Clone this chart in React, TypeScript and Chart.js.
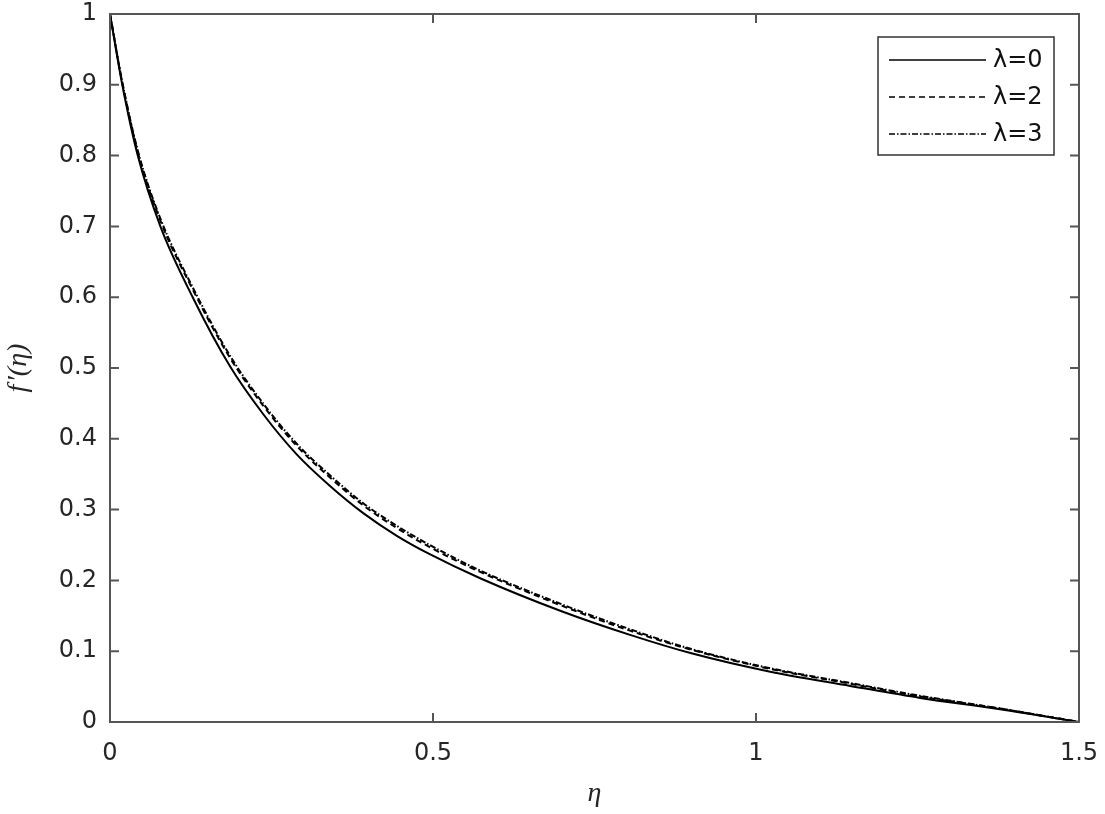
import React, { useEffect, useRef } from "react";
import { Chart, registerables } from "chart.js";

Chart.register(...registerables);

const eta = [0, 0.019, 0.043, 0.078, 0.128, 0.186, 0.237, 0.289, 0.341, 0.392, 0.444, 0.495, 0.573, 0.7, 0.805, 0.9, 1.022, 1.146, 1.254, 1.378, 1.5];
const lambda0 = [1, 0.9, 0.8, 0.7, 0.6, 0.502, 0.435, 0.378, 0.333, 0.295, 0.263, 0.237, 0.203, 0.156, 0.123, 0.097, 0.071, 0.051, 0.034, 0.018, 0];
const lambda2 = [1, 0.903, 0.805, 0.708, 0.611, 0.514, 0.447, 0.39, 0.345, 0.306, 0.274, 0.247, 0.212, 0.164, 0.129, 0.102, 0.075, 0.054, 0.036, 0.019, 0];
const lambda3 = [1, 0.904, 0.807, 0.711, 0.614, 0.517, 0.45, 0.393, 0.348, 0.309, 0.277, 0.25, 0.214, 0.166, 0.131, 0.103, 0.076, 0.055, 0.037, 0.019, 0];
const seriesLabels = ["λ=0", "λ=2", "λ=3"];
const xTicks = [0, 0.5, 1, 1.5];
const yTicks = [0, 0.1, 0.2, 0.3, 0.4, 0.5, 0.6, 0.7, 0.8, 0.9, 1];

const dashes: number[][] = [[], [6, 4], [6, 2, 1.5, 2]];

const AXIS_COLOR = "#555555";
const TEXT_COLOR = "#262626";
const TICK_FONT = { family: "'DejaVu Sans', 'Liberation Sans', Arial, sans-serif", size: 24 };

const framePlugin = {
  id: "matlabFrame",
  afterDraw(chart: any) {
    const ctx = chart.ctx;
    const a = chart.chartArea;
    const xs = chart.scales.x;
    const ys = chart.scales.y;
    const tl = 9;
    ctx.save();
    ctx.strokeStyle = AXIS_COLOR;
    ctx.lineWidth = 2;
    ctx.setLineDash([]);
    ctx.beginPath();
    for (const v of xTicks) {
      const px = xs.getPixelForValue(v);
      ctx.moveTo(px, a.bottom);
      ctx.lineTo(px, a.bottom - tl);
      ctx.moveTo(px, a.top);
      ctx.lineTo(px, a.top + tl);
    }
    for (const v of yTicks) {
      const py = ys.getPixelForValue(v);
      ctx.moveTo(a.left, py);
      ctx.lineTo(a.left + tl, py);
      ctx.moveTo(a.right, py);
      ctx.lineTo(a.right - tl, py);
    }
    ctx.stroke();
    ctx.strokeRect(a.left, a.top, a.right - a.left, a.bottom - a.top);

    // legend
    const bx = 878, by = 37, bw = 176, bh = 118;
    ctx.fillStyle = "#ffffff";
    ctx.fillRect(bx, by, bw, bh);
    ctx.lineWidth = 1.5;
    ctx.strokeStyle = "#333333";
    ctx.strokeRect(bx, by, bw, bh);
    const rows = [60, 97, 134];
    chart.data.datasets.forEach((ds: any, i: number) => {
      ctx.strokeStyle = "#000000";
      ctx.lineWidth = 1.5;
      ctx.setLineDash(ds.borderDash || []);
      ctx.beginPath();
      ctx.moveTo(889, rows[i]);
      ctx.lineTo(986, rows[i]);
      ctx.stroke();
      ctx.setLineDash([]);
      ctx.fillStyle = "#111111";
      ctx.font = "24px 'DejaVu Sans', 'Liberation Sans', Arial, sans-serif";
      ctx.textAlign = "left";
      ctx.textBaseline = "middle";
      ctx.fillText(ds.label, 993, rows[i] + 1);
    });
    ctx.restore();
  },
};

export default function App() {
  const canvasRef = useRef<HTMLCanvasElement | null>(null);

  useEffect(() => {
    const canvas = canvasRef.current;
    if (!canvas) return;
    const data = [lambda0, lambda2, lambda3];
    const chart = new Chart(canvas, {
      type: "line",
      data: {
        datasets: data.map((arr, i) => ({
          label: seriesLabels[i],
          data: eta.map((x, j) => ({ x, y: arr[j] })),
          borderColor: "#000000",
          borderWidth: 2,
          borderDash: dashes[i],
          pointRadius: 0,
          fill: false,
          cubicInterpolationMode: "monotone" as const,
        })),
      },
      options: {
        animation: false,
        responsive: false,
        maintainAspectRatio: false,
        layout: { padding: { top: 14, right: 26, left: 0, bottom: 0 } },
        plugins: {
          legend: { display: false },
          tooltip: { enabled: false },
        },
        scales: {
          x: {
            type: "linear",
            min: 0,
            max: 1.5,
            afterBuildTicks: (s: any) => {
              s.ticks = xTicks.map((v) => ({ value: v }));
            },
            afterFit: (s: any) => {
              s.height = 92;
              s.paddingLeft = 0;
              s.paddingRight = 0;
              s.paddingTop = 0;
              s.paddingBottom = 0;
            },
            grid: { display: false, drawTicks: false },
            border: { display: false },
            ticks: {
              color: TEXT_COLOR,
              font: TICK_FONT,
              padding: 17,
              maxRotation: 0,
              callback: (v: any) => String(Number(Number(v).toFixed(1))),
            },
            title: {
              display: true,
              text: "η",
              color: TEXT_COLOR,
              font: { family: "'Liberation Serif', 'DejaVu Serif', serif", size: 28, style: "italic" },
              padding: { top: 0, bottom: 4 },
            },
          },
          y: {
            type: "linear",
            min: 0,
            max: 1,
            afterBuildTicks: (s: any) => {
              s.ticks = yTicks.map((v) => ({ value: v }));
            },
            afterFit: (s: any) => {
              s.width = 110;
              s.paddingLeft = 0;
              s.paddingRight = 0;
              s.paddingTop = 0;
              s.paddingBottom = 0;
            },
            grid: { display: false, drawTicks: false },
            border: { display: false },
            ticks: {
              color: TEXT_COLOR,
              font: TICK_FONT,
              padding: 13,
              callback: (v: any) => String(Number(Number(v).toFixed(1))),
            },
            title: {
              display: true,
              text: "f\u200A′(η)",
              color: TEXT_COLOR,
              font: { family: "'Liberation Serif', 'DejaVu Serif', serif", size: 28, style: "italic" },
              padding: { top: 2, bottom: 0 },
            },
          },
        },
      },
      plugins: [framePlugin],
    });
    return () => chart.destroy();
  }, []);

  return (
    <div style={{ position: "fixed", left: 0, top: 0, width: 1105, height: 814, background: "#ffffff" }}>
      <canvas ref={canvasRef} width={1105} height={814} style={{ display: "block" }} />
    </div>
  );
}
